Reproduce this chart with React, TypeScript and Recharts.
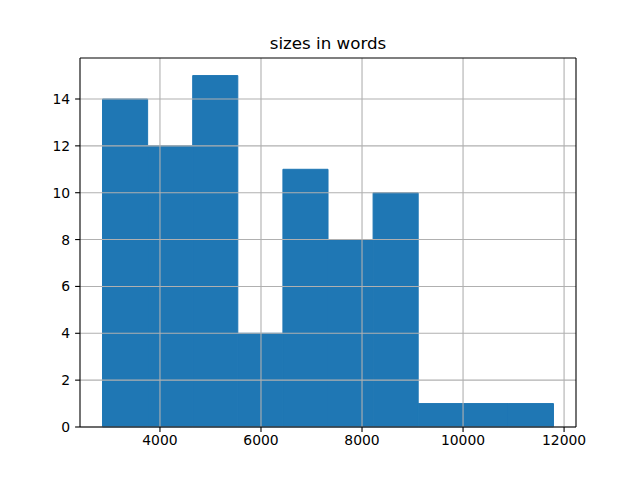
import React from "react";
import {
  ComposedChart,
  XAxis,
  YAxis,
  ReferenceArea,
  ReferenceLine,
} from "recharts";

// Histogram bin edges (words) and counts per bin
const binEdges = [2863, 3756, 4648, 5541, 6434, 7327, 8219, 9112, 10005, 10897, 11790];
const counts = [14, 12, 15, 4, 11, 8, 10, 1, 1, 1];
const xTicks = [4000, 6000, 8000, 10000, 12000];
const yTicks = [0, 2, 4, 6, 8, 10, 12, 14];
const title = "sizes in words";

const xMin = 2417;
const xMax = 12236;
const yMax = 15.75;

const bins = counts.map((c, i) => ({ x0: binEdges[i], x1: binEdges[i + 1], count: c }));

const FONT = "DejaVu Sans, sans-serif";
const tickStyle = { fontFamily: FONT, fontSize: 13.9, fill: "#000" };

export default function App() {
  return (
    <div style={{ position: "absolute", left: 0, top: 0, width: 640, height: 480, background: "#fff" }}>
      <ComposedChart
        width={640}
        height={480}
        data={bins}
        margin={{ top: 58, right: 0, bottom: 0, left: 0 }}
      >
        <XAxis
          xAxisId={0}
          type="number"
          dataKey="x0"
          domain={[xMin, xMax]}
          ticks={xTicks}
          allowDataOverflow
          height={53}
          tickSize={4.9}
          tickMargin={3}
          tickLine={{ stroke: "#000", strokeWidth: 1.1 }}
          axisLine={{ stroke: "#000", strokeWidth: 1.1 }}
          tick={tickStyle}
        />
        <YAxis
          yAxisId={0}
          type="number"
          domain={[0, yMax]}
          ticks={yTicks}
          allowDataOverflow
          width={80}
          tickSize={4.9}
          tickMargin={4.9}
          tickLine={{ stroke: "#000", strokeWidth: 1.1 }}
          axisLine={{ stroke: "#000", strokeWidth: 1.1 }}
          tick={tickStyle}
        />
        <YAxis
          yAxisId="right"
          orientation="right"
          type="number"
          domain={[0, yMax]}
          width={64}
          tick={false}
          tickLine={false}
          axisLine={false}
        />
        {bins.map((b, i) => (
          <ReferenceArea
            key={"bar" + i}
            xAxisId={0}
            yAxisId={0}
            x1={b.x0}
            x2={b.x1}
            y1={0}
            y2={b.count}
            fill="#1f77b4"
            fillOpacity={1}
            stroke="#1f77b4"
            strokeOpacity={1}
            strokeWidth={1}
            ifOverflow="visible"
          />
        ))}
        {xTicks.map((t) => (
          <ReferenceLine key={"gx" + t} xAxisId={0} yAxisId={0} x={t} stroke="#b0b0b0" strokeWidth={1.1} />
        ))}
        {yTicks.map((t) => (
          <ReferenceLine key={"gy" + t} xAxisId={0} yAxisId={0} y={t} stroke="#b0b0b0" strokeWidth={1.1} />
        ))}
        <ReferenceLine xAxisId={0} yAxisId={0} y={yMax} stroke="#000" strokeWidth={1.1} ifOverflow="visible" />
        <ReferenceLine xAxisId={0} yAxisId={0} x={xMax} stroke="#000" strokeWidth={1.1} ifOverflow="visible" />
        <text
          x={328}
          y={49}
          textAnchor="middle"
          style={{ fontFamily: FONT, fontSize: 16.7, fill: "#000" }}
        >
          {title}
        </text>
      </ComposedChart>
    </div>
  );
}
